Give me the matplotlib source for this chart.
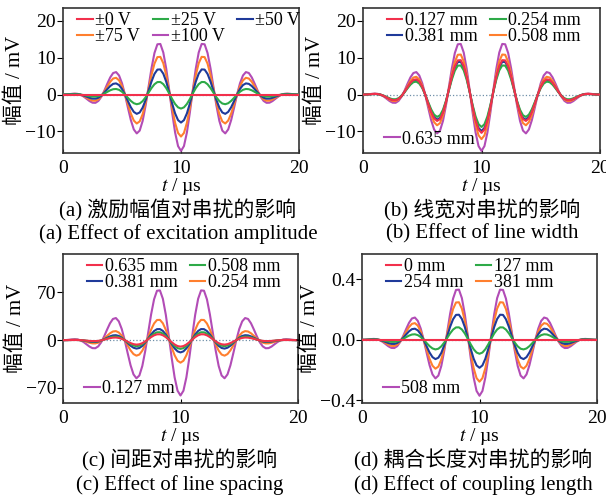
import numpy as np
import matplotlib
matplotlib.use("Agg")
import matplotlib.pyplot as plt

plt.rcParams['font.family'] = ['Liberation Serif', 'Noto Sans CJK SC']
plt.rcParams['mathtext.fontset'] = 'stix'
plt.rcParams['axes.unicode_minus'] = True

# time axis, us (0.25 us step)
t = np.linspace(0, 20, 81)

# normalised crosstalk waveform (trough at 10 us = -1)
shape = [0.0, 0.0014, 0.0062, 0.0127, 0.0166, 0.0124, -0.0045, -0.0351, -0.0754,
         -0.1161, -0.1444, -0.1467, -0.1126, -0.0393, 0.0670, 0.1896, 0.3038,
         0.3821, 0.3989, 0.3389, 0.2008, 0.0000, -0.2322, -0.4537, -0.6190,
         -0.6892, -0.6394, -0.4676, -0.1949, 0.1357, 0.4662, 0.7369, 0.8922,
         0.8980, 0.7461, 0.4578, 0.0806, -0.3202, -0.6732, -0.9143, -1.0,
         -0.9143, -0.6732, -0.3202, 0.0806, 0.4578, 0.7461, 0.8980, 0.8922,
         0.7369, 0.4662, 0.1357, -0.1949, -0.4676, -0.6394, -0.6892, -0.6190,
         -0.4537, -0.2322, 0.0000, 0.2008, 0.3389, 0.3989, 0.3821, 0.3038,
         0.1896, 0.0670, -0.0393, -0.1126, -0.1467, -0.1444, -0.1161, -0.0754,
         -0.0351, -0.0045, 0.0124, 0.0166, 0.0127, 0.0062, 0.0014, 0.0]

# peak (trough at 10 us) amplitude of each curve
labels_a = ['±0 V', '±25 V', '±50 V', '±75 V', '±100 V']
amp_a = [0.0, 3.8, 7.6, 11.4, 15.3]
labels_b = ['0.127 mm', '0.254 mm', '0.381 mm', '0.508 mm', '0.635 mm']
amp_b = [10.4, 8.8, 9.9, 12.1, 15.3]
labels_c = ['0.635 mm', '0.508 mm', '0.381 mm', '0.254 mm', '0.127 mm']
amp_c = [9.5, 12.8, 18.0, 33.0, 81.0]
labels_d = ['0 mm', '127 mm', '254 mm', '381 mm', '508 mm']
amp_d = [0.0, 0.092, 0.185, 0.277, 0.37]

colors = ['#f2304c', '#2eaa48', '#1f3a9a', '#ff7f2e', '#b24cb6']

cap_cn = ['(a) 激励幅值对串扰的影响', '(b) 线宽对串扰的影响',
          '(c) 间距对串扰的影响', '(d) 耦合长度对串扰的影响']
cap_en = ['(a) Effect of excitation amplitude', '(b) Effect of line width',
          '(c) Effect of line spacing', '(d) Effect of coupling length']

W, H = 606, 500
fig = plt.figure(figsize=(W / 100, H / 100), dpi=100)


def px_axes(x0, y0, x1, y1):
    return fig.add_axes([x0 / W, 1 - y1 / H, (x1 - x0) / W, (y1 - y0) / H])


panels = [
    dict(box=(63, 8, 299, 153.5), labels=labels_a, amp=amp_a, ylim=(-16, 23.5),
         yt=[-10, 0, 10, 20], ytl=['−10', '0', '10', '20'], cap=(178, 210, 234)),
    dict(box=(363, 8, 600, 153.5), labels=labels_b, amp=amp_b, ylim=(-16, 23.5),
         yt=[-10, 0, 10, 20], ytl=['−10', '0', '10', '20'], cap=(482, 210, 234)),
    dict(box=(63, 254, 298, 403), labels=labels_c, amp=amp_c, ylim=(-92, 126),
         yt=[-70, 0, 70], ytl=['−70', '0', '70'], cap=(180, 460, 485)),
    dict(box=(362, 254, 597, 403), labels=labels_d, amp=amp_d, ylim=(-0.418, 0.568),
         yt=[-0.4, 0.0, 0.4], ytl=['−0.4', '0.0', '0.4'], cap=(473, 460, 485)),
]

sh = np.array(shape)
for k, p in enumerate(panels):
    ax = px_axes(*p['box'])
    ax.axhline(0, color='#6f8fa8', ls=':', lw=0.9, zorder=1)
    handles = [None] * 5
    for i in range(4, -1, -1):
        ln, = ax.plot(t, p['amp'][i] * sh, color=colors[i], lw=1.5,
                      label=p['labels'][i], zorder=2 + (5 - i))
        handles[i] = ln
    ax.set_xlim(0, 20)
    ax.set_ylim(*p['ylim'])
    ax.set_xticks([0, 10, 20])
    ax.set_yticks(p['yt'])
    ax.set_yticklabels(p['ytl'])
    ax.tick_params(axis='x', direction='in', length=3, labelsize=14, pad=5)
    ax.tick_params(axis='y', direction='out', length=4, labelsize=14, pad=1)
    for s in ax.spines.values():
        s.set_linewidth(1.2)
        s.set_color('#333333')
    ax.set_xlabel('$t$ / µs', fontsize=14, labelpad=-1)
    ax.set_ylabel('幅值 / mV', fontsize=15, labelpad=0)

    leg_kw = dict(frameon=False, fontsize=13, handlelength=0.85, handletextpad=0.15,
                  borderaxespad=0.0, labelspacing=-0.05, columnspacing=0.7)
    if k == 0:
        order = [0, 3, 1, 4, 2]
        ax.legend([handles[i] for i in order], [p['labels'][i] for i in order],
                  ncol=3, loc='upper left', bbox_to_anchor=(0.03, 1.02), **leg_kw)
    else:
        order = [0, 2, 1, 3]
        lg = ax.legend([handles[i] for i in order], [p['labels'][i] for i in order],
                       ncol=2, loc='upper left', bbox_to_anchor=(0.07, 1.02), **leg_kw)
        ax.add_artist(lg)
        ax.legend([handles[4]], [p['labels'][4]], loc='lower left',
                  bbox_to_anchor=(0.06, -0.01), **leg_kw)

    cx, ycn, yen = p['cap']
    fig.text(cx / W, 1 - ycn / H, cap_cn[k], ha='center', va='center', fontsize=15)
    fig.text(cx / W, 1 - yen / H, cap_en[k], ha='center', va='center', fontsize=15)

fig.savefig('out.png', dpi=100)
